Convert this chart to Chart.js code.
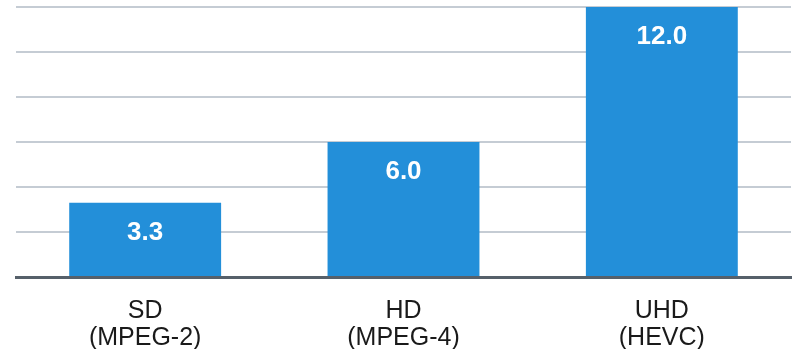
<!DOCTYPE html>
<html>
<head>
<meta charset="utf-8">
<script src="https://cdn.jsdelivr.net/npm/chart.js@4/dist/chart.umd.min.js"></script>
<style>
  html, body { margin: 0; padding: 0; background: #ffffff; }
  #wrap { width: 794px; height: 355px; position: relative; }
</style>
</head>
<body>
<div id="wrap"><canvas id="chart"></canvas></div>
<script>
// Video formats and their bitrates (Mbps)
const categories = [
  ['SD', '(MPEG-2)'],
  ['HD', '(MPEG-4)'],
  ['UHD', '(HEVC)']
];
const bitrates = [3.3, 6.0, 12.0];
const yTicks = [0, 2, 4, 6, 8, 10, 12];

const FONT = "'Liberation Sans', Arial, Helvetica, sans-serif";

// White value labels placed just inside the top of each bar
const barValueLabels = {
  id: 'barValueLabels',
  afterDatasetsDraw(chart) {
    const ctx = chart.ctx;
    const meta = chart.getDatasetMeta(0);
    ctx.save();
    ctx.fillStyle = '#ffffff';
    ctx.font = 'bold 26px ' + FONT;
    ctx.textAlign = 'center';
    ctx.textBaseline = 'middle';
    meta.data.forEach((bar, i) => {
      ctx.fillText(bitrates[i].toFixed(1), bar.x, bar.y + 30);
    });
    ctx.restore();
  }
};

new Chart(document.getElementById('chart'), {
  type: 'bar',
  data: {
    labels: categories,
    datasets: [{
      data: bitrates,
      backgroundColor: '#238fd9',
      borderWidth: 0,
      barPercentage: 0.588,
      categoryPercentage: 1.0
    }]
  },
  options: {
    responsive: true,
    maintainAspectRatio: false,
    animation: false,
    layout: { padding: { left: 16, right: 3, top: 7, bottom: 6 } },
    plugins: {
      legend: { display: false },
      tooltip: { enabled: false }
    },
    scales: {
      x: {
        z: 1,
        afterFit(scale) { scale.height = 72; },
        grid: { display: false, drawTicks: false },
        border: { display: true, color: '#56606a', width: 3 },
        ticks: {
          padding: 21,
          color: '#1a1a1a',
          font: { family: FONT, size: 25, lineHeight: '27px' },
          maxRotation: 0,
          autoSkip: false
        }
      },
      y: {
        display: true,
        min: 0,
        max: 12,
        afterBuildTicks(scale) {
          scale.ticks = yTicks.map(v => ({ value: v }));
        },
        grid: {
          drawTicks: false,
          lineWidth: 2,
          color: (c) => (c.tick && c.tick.value === 0) ? 'rgba(0,0,0,0)' : '#c5ccd4'
        },
        border: { display: false },
        ticks: { display: false }
      }
    }
  },
  plugins: [barValueLabels]
});
</script>
</body>
</html>
